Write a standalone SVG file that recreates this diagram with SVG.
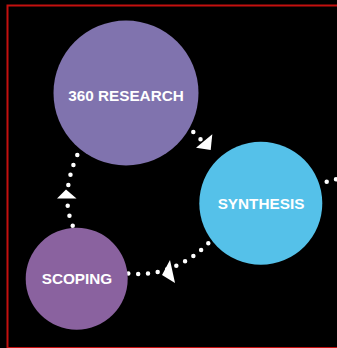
<svg xmlns="http://www.w3.org/2000/svg" width="337" height="348" viewBox="0 0 337 348">
  <style>
    .lbl { font-family: "Liberation Sans", Arial, sans-serif; font-weight: bold; font-size: 15.3px; fill: #ffffff; text-anchor: middle; }
    .dots { fill: none; stroke: #ffffff; stroke-width: 4.5; stroke-linecap: round; stroke-dasharray: 0 1; }
    .head { fill: #ffffff; }
  </style>
  <rect x="0" y="0" width="337" height="348" fill="#000000"/>
  <rect x="7.5" y="5.5" width="340" height="342.5" fill="none" stroke="#c4100f" stroke-width="2"/>

  <g id="connectors">
    <path class="dots" pathLength="3" d="M193.3,132 Q203,141 214.3,155"/>
    <polygon class="head" points="196,147.7 212.3,134.3 210.7,150"/>
    <path class="dots" pathLength="7" d="M72.7,225.7 Q60,195 77.3,155"/>
    <polygon class="head" points="66,189.5 57,198.5 76.5,198.5"/>
    <path class="dots" pathLength="9" d="M208.3,243.3 C190,262 162,277 128.3,273.5"/>
    <polygon class="head" points="162,275 170,260 175,283"/>
    <path class="dots" pathLength="2" d="M326.7,181.7 L345.3,176.9"/>
  </g>

  <g id="research">
    <circle cx="126" cy="93" r="72.5" fill="#8073ae"/>
    <text class="lbl" x="126" y="100.5">360 RESEARCH</text>
  </g>
  <g id="synthesis">
    <circle cx="260.8" cy="203.3" r="61.5" fill="#55c1e9"/>
    <text class="lbl" x="261" y="208.5">SYNTHESIS</text>
  </g>
  <g id="scoping">
    <circle cx="76.7" cy="278.7" r="51" fill="#8a629f"/>
    <text class="lbl" x="77" y="284">SCOPING</text>
  </g>
</svg>
